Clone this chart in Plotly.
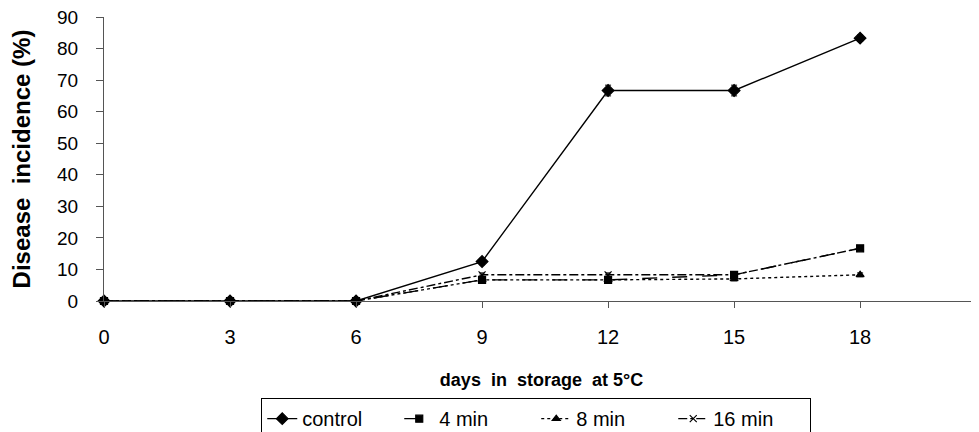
import plotly.graph_objects as go

days = [0, 3, 6, 9, 12, 15, 18]
control = [0, 0, 0, 12.5, 66.7, 66.7, 83.3]
min4 = [0, 0, 0, 6.7, 6.7, 8.3, 16.7]
min8 = [0, 0, 0, 6.7, 6.7, 7.0, 8.3]
min16 = [0, 0, 0, 8.3, 8.3, 8.3, 16.7]
err_control = [0, 0, 0, 1.0, 1.7, 1.7, 1.0]
err_small = [0, 0, 0, 0.6, 0.6, 0.6, 0.6]

y_ticks = list(range(0, 91, 10))
x_ticks = days

FONT = "Arial, Liberation Sans, sans-serif"

fig = go.Figure()

def add(name, y, dash, symbol, size, err):
    fig.add_trace(go.Scatter(
        x=days, y=y, name=name, mode="lines+markers",
        line=dict(color="black", width=1.4, dash=dash),
        marker=dict(symbol=symbol, size=size, color="black",
                    line=dict(color="black", width=1.2)),
        error_y=dict(type="data", array=err, color="black", thickness=1, width=3),
        cliponaxis=False,
    ))

add("control", control, "solid", "diamond", 9, err_control)
add("4 min", min4, "longdash", "square", 7, err_small)
add("8 min", min8, "dot", "triangle-up", 7, err_small)
add("16 min", min16, "dashdot", "x-thin", 7, err_small)

# the page body has an 8px margin, so the figure is sized to fill the rest
fig.update_layout(
    width=971, height=424,
    margin=dict(l=96, r=0, t=9, b=131, autoexpand=False),
    plot_bgcolor="white", paper_bgcolor="white",
    font=dict(family=FONT, size=19, color="black"),
    showlegend=True,
    legend=dict(
        orientation="h", x=0.494, xanchor="center", y=-0.342, yanchor="top",
        bordercolor="black", borderwidth=1, bgcolor="white",
        font=dict(family=FONT, size=20, color="black"),
        itemwidth=30, tracegroupgap=0, entrywidth=92, entrywidthmode="pixels",
    ),
)

fig.update_xaxes(
    range=[0, 20.83], tickmode="array", tickvals=x_ticks,
    ticktext=[str(v) for v in x_ticks],
    showgrid=False, zeroline=False,
    showline=True, linecolor="#555", linewidth=1,
    ticks="outside", ticklen=6, tickcolor="#555",
    tickfont=dict(size=20), ticklabelstandoff=12,
    title=dict(text="<b>days\u00a0\u00a0in\u00a0\u00a0storage\u00a0\u00a0at 5°C</b>",
               font=dict(size=18), standoff=26),
)
fig.update_yaxes(
    range=[0, 90], tickmode="array", tickvals=y_ticks,
    showgrid=False, zeroline=False,
    showline=True, linecolor="#555", linewidth=1,
    ticks="outside", ticklen=7, tickcolor="#555",
    tickfont=dict(size=19), ticklabelstandoff=14, ticklabeloverflow="allow",
    title=dict(text="<b>Disease\u00a0\u00a0incidence\u00a0(%)</b>",
               font=dict(size=24), standoff=24),
)

fig.write_html("out.html")
